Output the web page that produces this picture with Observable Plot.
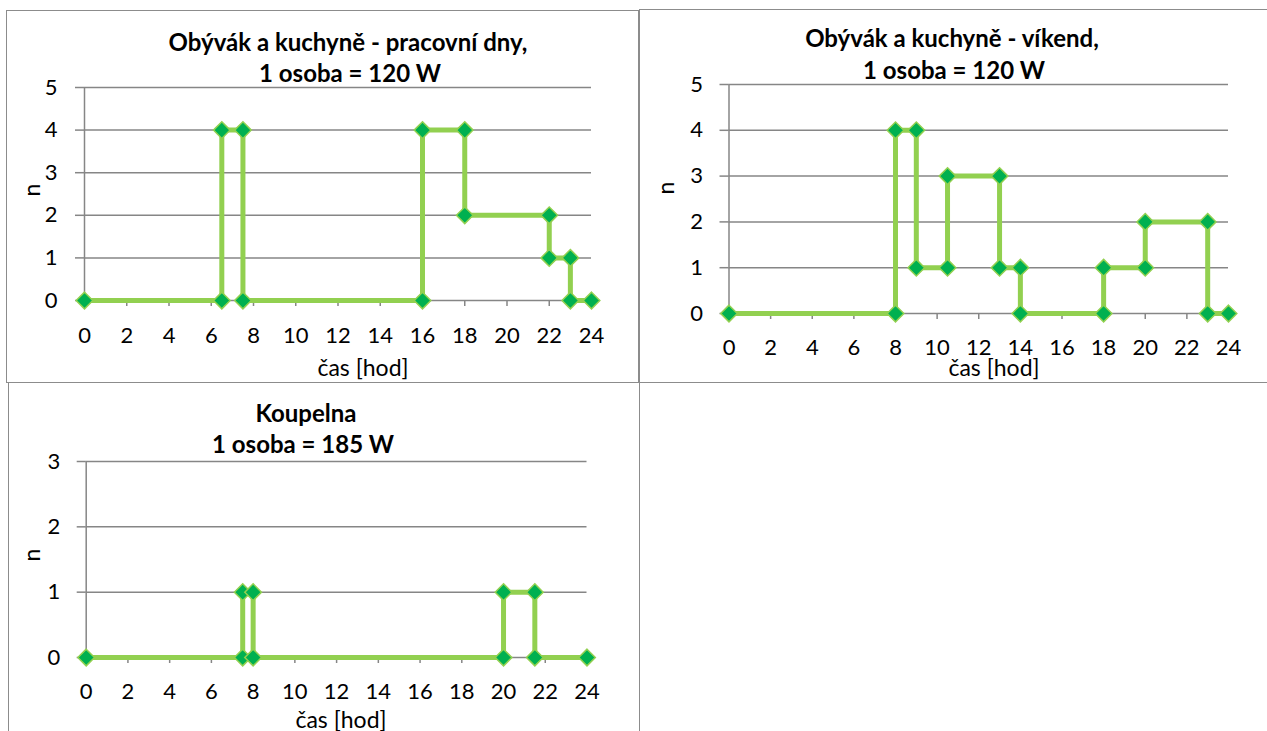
<!DOCTYPE html>
<html>
<head>
<meta charset="utf-8">
<script src="https://cdn.jsdelivr.net/npm/d3@7"></script>
<script src="https://cdn.jsdelivr.net/npm/@observablehq/plot@0.6"></script>
<style>
  html, body { margin: 0; padding: 0; background: #fff; }
  #wrap { position: relative; width: 1267px; height: 731px; overflow: hidden; font-family: Lato, "Open Sans", sans-serif; color: #000; }
  .box { position: absolute; box-sizing: border-box; border: 1.5px solid #8c8c8c; background: #fff; }
  .svgpos { position: absolute; }
  .lbl { position: absolute; transform: translate(-50%, -50%); white-space: nowrap; line-height: 1; }
  .title { font-weight: bold; font-size: 24px; }
  .axl { font-size: 23px; }
  .rot { transform: translate(-50%, -50%) rotate(-90deg); }
</style>
</head>
<body>
<div id="wrap"></div>
<script>
// ---- data ----
const xTicks = [0, 2, 4, 6, 8, 10, 12, 14, 16, 18, 20, 22, 24];

const titles1 = ["Obývák a kuchyně - pracovní dny,", "1 osoba = 120 W"];
const workX = [0, 6.5, 6.5, 7.5, 7.5, 16, 16, 18, 18, 22, 22, 23, 23, 24];
const workN = [0, 0, 4, 4, 0, 0, 4, 4, 2, 2, 1, 1, 0, 0];
const yTicks1 = [0, 1, 2, 3, 4, 5];

const titles2 = ["Obývák a kuchyně - víkend,", "1 osoba = 120 W"];
const weekendX = [0, 8, 8, 9, 9, 10.5, 10.5, 13, 13, 14, 14, 18, 18, 20, 20, 23, 23, 24];
const weekendN = [0, 0, 4, 4, 1, 1, 3, 3, 1, 1, 0, 0, 1, 1, 2, 2, 0, 0];
const yTicks2 = [0, 1, 2, 3, 4, 5];

const titles3 = ["Koupelna", "1 osoba = 185 W"];
const bathX = [0, 7.5, 7.5, 8, 8, 20, 20, 21.5, 21.5, 24];
const bathN = [0, 0, 1, 1, 0, 0, 1, 1, 0, 0];
const yTicks3 = [0, 1, 2, 3];

const xLabel = "čas [hod]";
const yLabel = "n";

// ---- drawing ----
const wrap = document.getElementById("wrap");
const grid = "#868686";

function addBox(l, t, w, h) {
  const d = document.createElement("div");
  d.className = "box";
  Object.assign(d.style, {left: l + "px", top: t + "px", width: w + "px", height: h + "px"});
  wrap.appendChild(d);
}
function addLabel(text, cx, cy, cls, extra) {
  const d = document.createElement("div");
  d.className = "lbl " + cls;
  d.textContent = text;
  Object.assign(d.style, {left: cx + "px", top: cy + "px"}, extra || {});
  wrap.appendChild(d);
}

function panel(xs, ns, yTicks, pos) {
  const data = xs.map((x, i) => ({x, n: ns[i]}));
  const ymax = yTicks[yTicks.length - 1];
  const svg = Plot.plot({
    width: pos.w, height: pos.h,
    marginLeft: pos.ml, marginRight: pos.mr, marginTop: pos.mt, marginBottom: pos.mb,
    style: {fontFamily: "Lato, 'Open Sans', sans-serif", fontSize: "22px", color: "#000", overflow: "visible", background: "transparent"},
    x: {domain: [0, 24], axis: null, inset: 0},
    y: {domain: [0, ymax], axis: null, inset: 0},
    marks: [
      Plot.gridY(yTicks, {stroke: grid, strokeOpacity: 1, strokeWidth: 1.5}),
      Plot.axisY(yTicks, {tickSize: 9, tickPadding: pos.typ, stroke: grid, strokeWidth: 1.5, label: null, fill: "#000", fontSize: 22, tickFormat: d => String(d)}),
      Plot.axisX(xTicks, {tickSize: 6, tickPadding: pos.txp, stroke: grid, strokeWidth: 1.5, label: null, fill: "#000", fontSize: 22, tickFormat: d => String(d)}),
      Plot.ruleX([0], {stroke: grid, strokeWidth: 1.5}),
      Plot.line(data, {x: "x", y: "n", stroke: "#92D050", strokeWidth: 5, curve: "linear"}),
      Plot.dot(data, {x: "x", y: "n", symbol: "diamond2", r: 7.5, fill: "#00B050", stroke: "#92D050", strokeWidth: 1.5})
    ]
  });
  svg.classList.add("svgpos");
  svg.style.left = pos.l + "px";
  svg.style.top = pos.t + "px";
  wrap.appendChild(svg);
}

// boxes
addBox(6, 10, 633, 373);
addBox(639, 9, 640, 374);
addBox(8, 382, 632, 360);

panel(workX, workN, yTicks1, {l: 6, t: 10, w: 632, h: 373, ml: 78, mr: 47, mt: 77, mb: 83, typ: 18, txp: 21});
panel(weekendX, weekendN, yTicks2, {l: 639, t: 9, w: 628, h: 374, ml: 89.5, mr: 39, mt: 75, mb: 70, typ: 17, txp: 20});
panel(bathX, bathN, yTicks3, {l: 8, t: 382, w: 632, h: 349, ml: 77.7, mr: 53.5, mt: 79, mb: 74, typ: 17, txp: 20});

// titles
addLabel(titles1[0], 348, 42, "title");
addLabel(titles1[1], 350, 73, "title");
addLabel(titles2[0], 952, 38, "title");
addLabel(titles2[1], 954, 70, "title");
addLabel(titles3[0], 306, 413, "title");
addLabel(titles3[1], 303, 444, "title");

// axis labels
addLabel(xLabel, 363, 367, "axl");
addLabel(xLabel, 994, 367, "axl");
addLabel(xLabel, 341, 719, "axl");
addLabel(yLabel, 31, 190, "axl rot");
addLabel(yLabel, 665, 188, "axl rot");
addLabel(yLabel, 31, 555, "axl rot");
</script>
</body>
</html>
